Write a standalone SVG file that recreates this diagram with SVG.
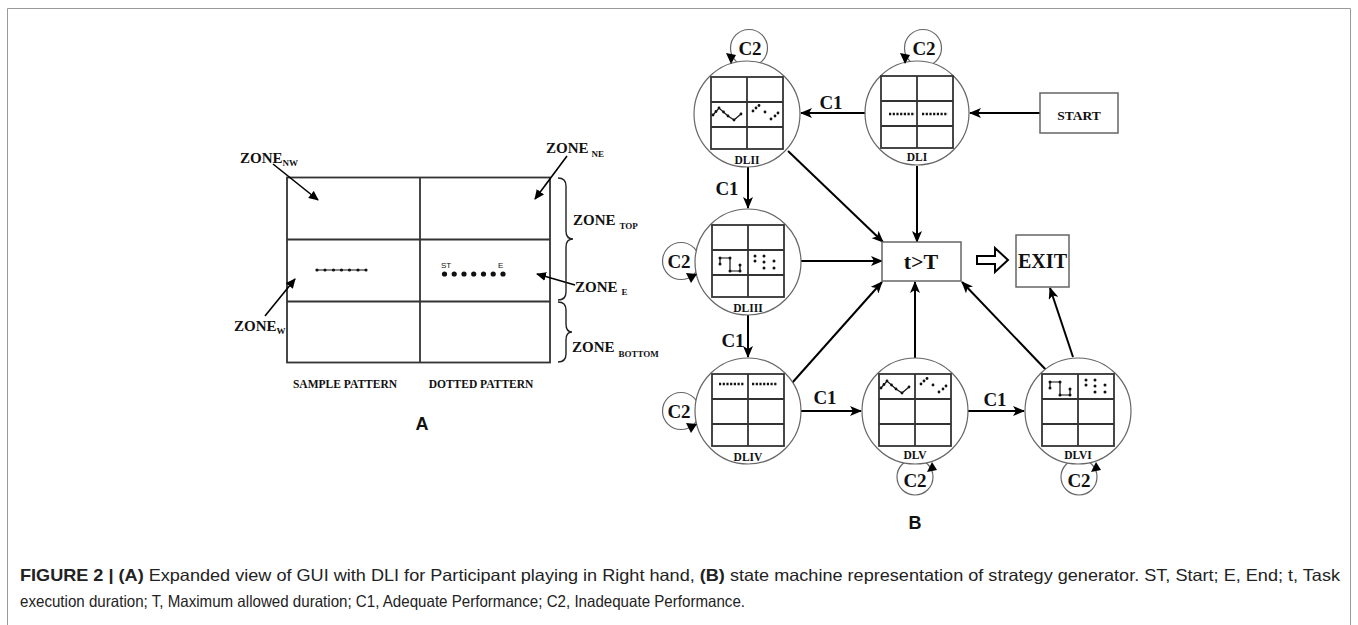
<svg xmlns="http://www.w3.org/2000/svg" width="1358" height="625" viewBox="0 0 1358 625">
<defs>
<marker id="ah" markerUnits="userSpaceOnUse" markerWidth="12" markerHeight="10" refX="11" refY="5" orient="auto">
<path d="M0,0 L12,5 L0,10 L3,5 z" fill="#000"/>
</marker>
<marker id="ahs" markerUnits="userSpaceOnUse" markerWidth="10" markerHeight="9" refX="9" refY="4.5" orient="auto">
<path d="M0,0 L10,4.5 L0,9 z" fill="#000"/>
</marker>
<style>
.frame{fill:none;stroke:#999;stroke-width:1}
.grid{fill:none;stroke:#333;stroke-width:1.8}
.node{fill:#fff;stroke:#666;stroke-width:1.2}
.box{fill:#fff;stroke:#666;stroke-width:1.5}
.edge{fill:none;stroke:#000;stroke-width:2;marker-end:url(#ah)}
.loop{fill:none;stroke:#666;stroke-width:1.2}
.head{fill:#000}
.serif{font-family:"Liberation Serif","Times New Roman",serif;font-weight:bold;fill:#111}
.zone{font-size:15px}
.sub{font-size:9px}
.c{font-size:19px;text-anchor:middle}
.lbl{font-size:11.5px;text-anchor:middle}
.dash{stroke:#111;stroke-width:2.6;stroke-dasharray:2.2 1.5}
.pl{fill:none;stroke:#111;stroke-width:1.2}
.dot{fill:#111}
.cap{font-family:"Liberation Sans",Arial,sans-serif;font-size:16.5px;fill:#222}
.big{font-family:"Liberation Sans",Arial,sans-serif;font-weight:bold;font-size:18px;text-anchor:middle;fill:#111}
</style>
</defs>
<path class="frame" d="M7.5,625 V8.5 H1350.5 V625"/>

<g id="panelA">
<rect class="grid" x="287" y="177.5" width="263" height="185"/>
<line class="grid" x1="420" y1="177.5" x2="420" y2="362.5"/>
<line class="grid" x1="287" y1="239.5" x2="550" y2="239.5"/>
<line class="grid" x1="287" y1="301.5" x2="550" y2="301.5"/>
<line x1="317" y1="270" x2="366" y2="270" stroke="#111" stroke-width="1"/>
<g class="dot">
<circle cx="317" cy="270" r="1.6"/><circle cx="325" cy="270" r="1.6"/><circle cx="333.5" cy="270" r="1.6"/><circle cx="341.5" cy="270" r="1.6"/><circle cx="349.5" cy="270" r="1.6"/><circle cx="358" cy="270" r="1.6"/><circle cx="366" cy="270" r="1.6"/>
<circle cx="444.5" cy="274" r="2.6"/><circle cx="454.2" cy="274" r="2.6"/><circle cx="464" cy="274" r="2.6"/><circle cx="473.7" cy="274" r="2.6"/><circle cx="483.5" cy="274" r="2.6"/><circle cx="493.2" cy="274" r="2.6"/><circle cx="503" cy="274" r="2.6"/>
</g>
<text x="441" y="268" font-family="Liberation Sans,Arial,sans-serif" font-size="8" fill="#111">ST</text>
<text x="498" y="268" font-family="Liberation Sans,Arial,sans-serif" font-size="8" fill="#111">E</text>
<text class="serif zone" x="240" y="163">ZONE<tspan class="sub" dy="3">NW</tspan></text>
<text class="serif zone" x="546" y="153">ZONE<tspan class="sub" dx="3" dy="4">NE</tspan></text>
<text class="serif zone" x="573" y="225">ZONE<tspan class="sub" dx="4" dy="4">TOP</tspan></text>
<text class="serif zone" x="575" y="292">ZONE<tspan class="sub" dx="4" dy="3">E</tspan></text>
<text class="serif zone" x="572" y="352">ZONE<tspan class="sub" dx="4" dy="5">BOTTOM</tspan></text>
<text class="serif zone" x="234" y="331">ZONE<tspan class="sub" dy="3">W</tspan></text>
<line x1="273" y1="164" x2="318" y2="200" stroke="#000" stroke-width="1.6" marker-end="url(#ahs)"/>
<line x1="567" y1="156" x2="535" y2="199" stroke="#000" stroke-width="1.6" marker-end="url(#ahs)"/>
<line x1="575" y1="285" x2="537" y2="274" stroke="#000" stroke-width="1.6" marker-end="url(#ahs)"/>
<line x1="265" y1="316" x2="295" y2="279" stroke="#000" stroke-width="1.6" marker-end="url(#ahs)"/>
<path d="M558,178 q8,0 8,8 v45 q0,8 7,8 q-7,0 -7,8 v45 q0,8 -8,8" fill="none" stroke="#222" stroke-width="1.4"/>
<path d="M558,302 q8,0 8,8 v14 q0,8 6,8 q-6,0 -6,8 v14 q0,8 -8,8" fill="none" stroke="#222" stroke-width="1.4"/>
<text class="serif" x="345" y="388" font-size="11.5" text-anchor="middle">SAMPLE PATTERN</text>
<text class="serif" x="481" y="388" font-size="11.5" text-anchor="middle">DOTTED PATTERN</text>
<text class="big" x="422" y="430">A</text>
</g>

<g id="connectors">
<line class="edge" x1="1040" y1="113" x2="970" y2="113"/>
<line class="edge" x1="865" y1="113" x2="801" y2="113"/>
<line class="edge" x1="748" y1="167" x2="748" y2="208"/>
<line class="edge" x1="748" y1="315" x2="748" y2="357"/>
<line class="edge" x1="801" y1="411" x2="861" y2="411"/>
<line class="edge" x1="968" y1="411" x2="1024" y2="411"/>
<line class="edge" x1="788" y1="151" x2="883" y2="242"/>
<line class="edge" x1="917" y1="166" x2="917" y2="242"/>
<line class="edge" x1="801" y1="261" x2="882" y2="261"/>
<line class="edge" x1="792" y1="383" x2="882" y2="282"/>
<line class="edge" x1="915" y1="358" x2="915" y2="282"/>
<line class="edge" x1="1048" y1="372" x2="962" y2="282"/>
<line class="edge" x1="1073" y1="357" x2="1050" y2="288"/>
<circle class="loop" cx="749" cy="48" r="18.5"/>
<circle class="loop" cx="923" cy="48" r="18.5"/>
<circle class="loop" cx="681" cy="261" r="18.5"/>
<circle class="loop" cx="681" cy="411" r="18.5"/>
<circle class="loop" cx="915" cy="477" r="18"/>
<circle class="loop" cx="1079" cy="477" r="18"/>
<text class="serif c" x="831" y="109">C1</text>
<text class="serif c" x="727" y="195">C1</text>
<text class="serif c" x="733" y="347">C1</text>
<text class="serif c" x="825" y="404">C1</text>
<text class="serif c" x="995" y="406">C1</text>
<polygon points="977,256 995,256 995,248 1008,260 995,272 995,264 977,264" fill="#fff" stroke="#000" stroke-width="2"/>
</g>

<g id="DLI">
<circle class="node" cx="917" cy="113" r="52"/>
<rect class="grid" x="881" y="76" width="72" height="72"/>
<line class="grid" x1="917" y1="76" x2="917" y2="148"/>
<line class="grid" x1="881" y1="101" x2="953" y2="101"/>
<line class="grid" x1="881" y1="126" x2="953" y2="126"/>
<line class="dash" x1="889" y1="114" x2="915" y2="114"/>
<line class="dash" x1="922" y1="114" x2="948" y2="114"/>
<text class="serif lbl" x="917" y="161">DLI</text>
</g>

<g id="DLII">
<circle class="node" cx="747" cy="114" r="53"/>
<rect class="grid" x="711" y="77" width="72" height="72"/>
<line class="grid" x1="747" y1="77" x2="747" y2="149"/>
<line class="grid" x1="711" y1="102" x2="783" y2="102"/>
<line class="grid" x1="711" y1="127" x2="783" y2="127"/>
<polyline class="pl" points="713,115 719,108 728,116 734,120 741,114"/>
<g class="dot"><circle cx="713" cy="115" r="1.4"/><circle cx="716" cy="111.5" r="1.4"/><circle cx="719" cy="108" r="1.4"/><circle cx="723.5" cy="112" r="1.4"/><circle cx="728" cy="116" r="1.4"/><circle cx="734" cy="120" r="1.4"/><circle cx="741" cy="114" r="1.4"/>
<circle cx="753" cy="111" r="1.4"/><circle cx="756" cy="108" r="1.4"/><circle cx="759" cy="105.5" r="1.4"/><circle cx="765" cy="112" r="1.4"/><circle cx="771" cy="119" r="1.4"/><circle cx="775" cy="116" r="1.4"/><circle cx="778" cy="113" r="1.4"/></g>
<text class="serif lbl" x="747" y="164">DLII</text>
</g>

<g id="DLIII">
<circle class="node" cx="748" cy="262" r="53"/>
<rect class="grid" x="712" y="225" width="72" height="72"/>
<line class="grid" x1="748" y1="225" x2="748" y2="297"/>
<line class="grid" x1="712" y1="250" x2="784" y2="250"/>
<line class="grid" x1="712" y1="275" x2="784" y2="275"/>
<polyline class="pl" points="720,264 720,258 730,258 730,271 740,271 740,265"/>
<g class="dot"><circle cx="720" cy="264" r="1.5"/><circle cx="720" cy="258" r="1.5"/><circle cx="730" cy="258" r="1.5"/><circle cx="730" cy="271" r="1.5"/><circle cx="740" cy="271" r="1.5"/><circle cx="740" cy="265" r="1.5"/>
<circle cx="755" cy="256" r="1.5"/><circle cx="755" cy="261" r="1.5"/><circle cx="764" cy="256" r="1.5"/><circle cx="764" cy="262" r="1.5"/><circle cx="764" cy="268" r="1.5"/><circle cx="774" cy="261" r="1.5"/><circle cx="774" cy="268" r="1.5"/></g>
<text class="serif lbl" x="748" y="312">DLIII</text>
</g>

<g id="DLIV">
<circle class="node" cx="748" cy="411" r="53"/>
<rect class="grid" x="712" y="374" width="72" height="72"/>
<line class="grid" x1="748" y1="374" x2="748" y2="446"/>
<line class="grid" x1="712" y1="399" x2="784" y2="399"/>
<line class="grid" x1="712" y1="424" x2="784" y2="424"/>
<line class="dash" x1="719" y1="384" x2="744" y2="384"/>
<line class="dash" x1="752" y1="384" x2="777" y2="384"/>
<text class="serif lbl" x="748" y="461">DLIV</text>
</g>

<g id="DLV">
<circle class="node" cx="915" cy="411" r="53"/>
<rect class="grid" x="879" y="374" width="72" height="72"/>
<line class="grid" x1="915" y1="374" x2="915" y2="446"/>
<line class="grid" x1="879" y1="399" x2="951" y2="399"/>
<line class="grid" x1="879" y1="424" x2="951" y2="424"/>
<polyline class="pl" points="881,388 887,381 896,389 902,393 909,387"/>
<g class="dot"><circle cx="881" cy="388" r="1.4"/><circle cx="884" cy="384.5" r="1.4"/><circle cx="887" cy="381" r="1.4"/><circle cx="891.5" cy="385" r="1.4"/><circle cx="896" cy="389" r="1.4"/><circle cx="902" cy="393" r="1.4"/><circle cx="909" cy="387" r="1.4"/>
<circle cx="921" cy="384" r="1.4"/><circle cx="924" cy="381" r="1.4"/><circle cx="927" cy="378.5" r="1.4"/><circle cx="933" cy="385" r="1.4"/><circle cx="939" cy="392" r="1.4"/><circle cx="943" cy="389" r="1.4"/><circle cx="946" cy="386" r="1.4"/></g>
<text class="serif lbl" x="915" y="459">DLV</text>
</g>

<g id="DLVI">
<circle class="node" cx="1078" cy="411" r="53"/>
<rect class="grid" x="1042" y="374" width="72" height="72"/>
<line class="grid" x1="1078" y1="374" x2="1078" y2="446"/>
<line class="grid" x1="1042" y1="399" x2="1114" y2="399"/>
<line class="grid" x1="1042" y1="424" x2="1114" y2="424"/>
<polyline class="pl" points="1050,388 1050,382 1060,382 1060,395 1070,395 1070,389"/>
<g class="dot"><circle cx="1050" cy="388" r="1.5"/><circle cx="1050" cy="382" r="1.5"/><circle cx="1060" cy="382" r="1.5"/><circle cx="1060" cy="395" r="1.5"/><circle cx="1070" cy="395" r="1.5"/><circle cx="1070" cy="389" r="1.5"/>
<circle cx="1086" cy="380" r="1.5"/><circle cx="1086" cy="385" r="1.5"/><circle cx="1095" cy="380" r="1.5"/><circle cx="1095" cy="386" r="1.5"/><circle cx="1095" cy="392" r="1.5"/><circle cx="1105" cy="385" r="1.5"/><circle cx="1105" cy="392" r="1.5"/></g>
<text class="serif lbl" x="1078" y="459">DLVI</text>
</g>

<g id="loopHeads">
<polygon class="head" points="731,64 726,53 736,55"/>
<polygon class="head" points="905,64 900,53 910,55"/>
<polygon class="head" points="697,274 686,273 691,283"/>
<polygon class="head" points="697,424 686,423 691,433"/>
<polygon class="head" points="932,462 927,472 937,470"/>
<polygon class="head" points="1096,462 1091,472 1101,470"/>
<text class="serif c" x="750" y="55">C2</text>
<text class="serif c" x="924" y="55">C2</text>
<text class="serif c" x="679" y="268">C2</text>
<text class="serif c" x="679" y="418">C2</text>
<text class="serif c" x="915" y="487">C2</text>
<text class="serif c" x="1079" y="487">C2</text>
</g>

<g id="START">
<rect class="box" x="1040" y="93" width="78" height="40"/>
<text class="serif" x="1079" y="120" font-size="13.5" text-anchor="middle">START</text>
</g>
<g id="tT">
<rect class="box" x="882" y="242" width="79" height="39"/>
<text class="serif" x="921" y="269" font-size="22" text-anchor="middle">t&gt;T</text>
</g>
<g id="EXIT">
<rect class="box" x="1016" y="235" width="53" height="52"/>
<text class="serif" x="1042.5" y="268" font-size="21" text-anchor="middle" textLength="49" lengthAdjust="spacingAndGlyphs">EXIT</text>
</g>
<text class="big" x="915" y="529">B</text>

<g id="caption">
<text class="cap" x="20" y="581" textLength="1320" lengthAdjust="spacingAndGlyphs"><tspan font-weight="bold">FIGURE 2 | (A)</tspan> Expanded view of GUI with DLI for Participant playing in Right hand, <tspan font-weight="bold">(B)</tspan> state machine representation of strategy generator. ST, Start; E, End; t, Task</text>
<text class="cap" x="20" y="607" textLength="725" lengthAdjust="spacingAndGlyphs">execution duration; T, Maximum allowed duration; C1, Adequate Performance; C2, Inadequate Performance.</text>
</g>
</svg>
